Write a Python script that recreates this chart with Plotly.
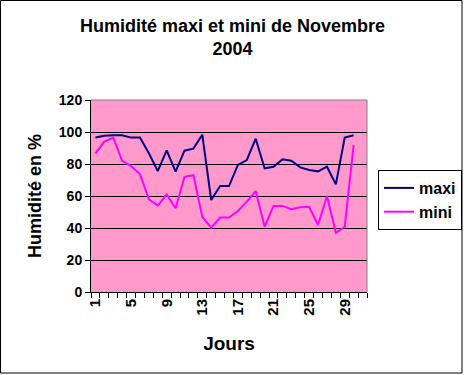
import plotly.graph_objects as go

days = list(range(1, 31))
maxi = [96.5, 97.7, 98, 98, 96.5, 96.5, 86.7, 75.6, 88.5, 75.2, 88.3, 89.6, 98.3, 57.5, 66.2,
        66.2, 79.4, 82.5, 95.8, 77.3, 78.3, 82.9, 82, 77.9, 76.2, 75.4, 78.3, 67.3, 96.5, 98]
mini = [86.7, 94, 96.5, 82, 78.7, 73.7, 58, 54, 61, 52.3, 72, 73, 47, 40.2, 46.5,
        46.5, 50.6, 56.5, 63.1, 40.8, 53.8, 53.8, 51.7, 52.9, 53.3, 41.9, 60, 37, 40.8, 91.9]
x_ticks = [1, 5, 9, 13, 17, 21, 25, 29]
y_ticks = [0, 20, 40, 60, 80, 100, 120]

FONT = "Liberation Sans, Arial, sans-serif"
W, H = 464, 375
L, R, T, B = 91, 97, 100, 83
pw, ph = W - L - R, H - T - B

fig = go.Figure()
fig.add_trace(go.Scatter(x=days, y=maxi, mode="lines", name="<b>maxi</b>",
                         line=dict(color="#000080", width=2)))
fig.add_trace(go.Scatter(x=days, y=mini, mode="lines", name="<b>mini</b>",
                         line=dict(color="#FF00FF", width=2)))

fig.update_layout(
    width=W, height=H,
    margin=dict(l=L, r=R, t=T, b=B, autoexpand=False),
    paper_bgcolor="white",
    plot_bgcolor="#FF99CC",
    font=dict(family=FONT, color="black", size=14),
    showlegend=True,
    legend=dict(xref="container", yref="container",
                x=378 / W, xanchor="left", y=1 - 170 / H, yanchor="top",
                bgcolor="white", bordercolor="black", borderwidth=1,
                font=dict(size=16, family=FONT), itemwidth=30,
                tracegroupgap=0),
    xaxis=dict(range=[0.5, 31.5], tickmode="array", tickvals=x_ticks,
               ticktext=["<b>%d</b>" % v for v in x_ticks], tickangle=-90,
               ticks="", showgrid=False, zeroline=False, automargin=False,
               showline=True, linecolor="black", linewidth=1,
               tickfont=dict(size=15, family=FONT),
               minor=dict(tickmode="array", tickvals=[v + 0.5 for v in range(0, 32)],
                          ticks="outside", ticklen=5, tickcolor="black", showgrid=False),
               title=dict(text="<b>Jours</b>", font=dict(size=19, family=FONT), standoff=22)),
    yaxis=dict(range=[0, 120], tickmode="array", tickvals=y_ticks,
               ticktext=["<b>%d</b>" % v for v in y_ticks],
               ticks="outside", ticklen=5, tickcolor="black", automargin=False,
               showgrid=True, gridcolor="black", gridwidth=1,
               zeroline=False, showline=True, linecolor="black", linewidth=1,
               tickfont=dict(size=14, family=FONT),
               title=dict(text="<b>Humidité en %</b>", font=dict(size=18, family=FONT), standoff=12)),
)

fig.add_annotation(text="<b>Humidité maxi et mini de Novembre<br>2004</b>",
                   xref="paper", yref="paper", x=(232 - L) / pw, xanchor="center",
                   y=(H - B - 14) / ph, yanchor="top", showarrow=False,
                   font=dict(size=18, family=FONT, color="black"))

# plot area gray top/right border
fig.add_shape(type="line", xref="paper", yref="paper", x0=0, x1=1, y0=1, y1=1,
              line=dict(color="#808080", width=1))
fig.add_shape(type="line", xref="paper", yref="paper", x0=1, x1=1, y0=0, y1=1,
              line=dict(color="#808080", width=1))
# outer chart border
fig.add_shape(type="rect", xref="paper", yref="paper",
              x0=(0.5 - L) / pw, x1=(462 - L) / pw,
              y0=(H - B - 373) / ph, y1=(H - B - 0.5) / ph,
              line=dict(color="black", width=1), layer="above")

fig.write_html("out.html")
